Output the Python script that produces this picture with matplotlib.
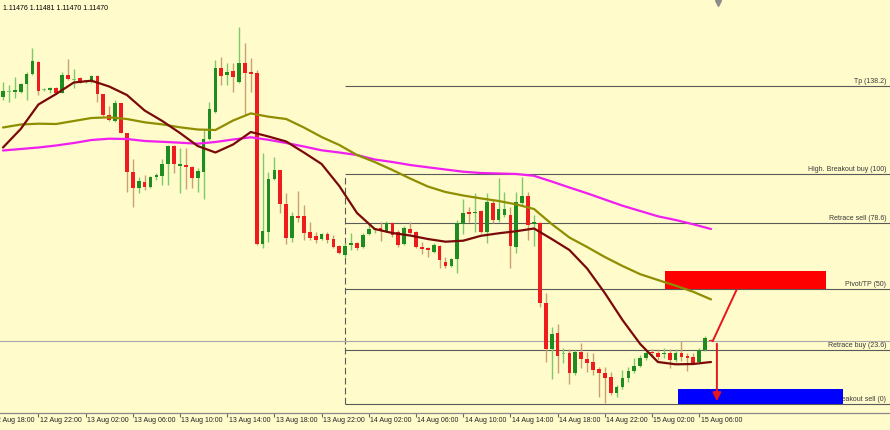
import matplotlib
matplotlib.use("Agg")
import matplotlib.pyplot as plt
import numpy as np
from matplotlib.patches import Rectangle
from matplotlib import font_manager

# ---------------- data (30-minute candles, chart price units) ----------------
opens = [333.3, 338.5, 338, 338, 346, 356, 368, 340, 340, 342.3,
         337.3, 355, 350.5, 352, 349, 348.3, 354.5, 336, 315, 309,
         327.3, 297.3, 258.3, 242, 248.3, 242.7, 253.3, 254, 266, 284,
         264, 265, 263.3, 251.7, 258.3, 291, 318.3, 362, 355, 359.3,
         348.3, 367.3, 358.3, 356.7, 186, 198.3, 251, 260, 226, 192,
         214, 214, 198.3, 194, 190.7, 196, 190.7, 184, 175, 185,
         187.3, 182.7, 196, 200.5, 202, 199.3, 207.3, 198.3, 186, 201,
         198.3, 183.3, 182, 178.3, 184, 168.3, 164, 170.7, 206, 218,
         216.7, 219.3, 198.3, 227.3, 210, 215, 215, 183.3, 226.7, 234,
         206, 207.3, 127.3, 80.7, 96.7, 76, 76.7, 56.7, 78.3, 70.7,
         68.3, 60.7, 57.3, 52.7, 36.7, 42.7, 51.7, 59.3, 64, 71.7,
         78.3, 77.3, 76, 77.3, 70, 77.3, 74, 73.3, 68.3, 80,
         90.2]
highs = [348, 345, 353, 347, 358, 382, 369, 342, 343.3, 343.3,
         358.3, 371, 361, 353, 350.3, 355, 355, 336, 324, 330,
         327.3, 297.3, 271, 253, 255, 254, 257, 271, 285, 285,
         282, 282, 264, 262, 300, 328.3, 370, 373.3, 367, 367.3,
         403, 387, 372, 360, 277, 258.3, 273, 260.5, 237, 218.3,
         239.3, 225, 208.3, 198.3, 197.3, 198.3, 195, 185, 187, 197,
         188.3, 197, 207, 202, 208, 209, 208.3, 200, 204, 208.3,
         199.3, 188.3, 182.7, 186.7, 185, 173.3, 171.7, 210, 231, 223.3,
         237, 220, 237, 230, 252, 238.3, 223.3, 238.3, 253.3, 238.3,
         215, 208.3, 137, 103.3, 106, 82, 81, 80, 87, 78.3,
         77, 63.3, 63.3, 58.3, 45, 60, 63.3, 71.7, 75, 79.3,
         80.7, 80.7, 81.7, 80.7, 80.7, 89.3, 77.3, 77.3, 81.7, 94,
         91.2]
lows = [330, 328, 332, 337, 330, 355, 335, 339, 337, 336,
        336.7, 350, 342, 346.7, 347.3, 347.3, 328.3, 314.3, 309, 308.3,
        296.7, 238.3, 223, 237.3, 240, 241.7, 250, 245, 245, 257.3,
        237.3, 241, 242, 238.3, 231, 290, 317.3, 345, 345, 338.3,
        347.3, 315, 338.3, 185, 182, 188.3, 250.5, 217.3, 186, 188.3,
        208.3, 190, 190, 187.3, 190, 187.3, 181.7, 176, 173, 180,
        180, 181.7, 195, 196.7, 189, 198.3, 192.7, 183.3, 185, 196,
        181.7, 175.7, 173.3, 177.3, 162, 161.7, 163.3, 157, 196, 208.3,
        198.3, 197.3, 187.3, 207.3, 208.3, 213.3, 161.7, 177.3, 225, 190,
        184, 123.3, 68.3, 50.7, 56.7, 67, 46, 55, 62, 58.3,
        55, 33.3, 26.7, 35, 33.3, 40.7, 48.3, 56.7, 63.3, 70,
        73.3, 70, 71.7, 61.7, 68.3, 69.3, 59.3, 66, 66.7, 79.3,
        89]
closes = [339.3, 339.5, 340, 346, 356, 369, 339, 341, 342.3, 336.7,
          355, 351, 351.5, 347.3, 349.5, 354, 336, 315, 310, 327,
          297.3, 258.3, 242, 249, 242.7, 253.3, 255, 266, 284, 266,
          266, 262.7, 251.7, 259.3, 291, 321, 362, 354, 358.3, 353.3,
          367.3, 356.7, 356, 186, 199.3, 251, 260, 226, 192, 214,
          212.3, 197.3, 191.7, 190, 196, 190, 183.3, 176.7, 184, 187.3,
          181.7, 195, 201, 201.3, 200, 207.3, 195, 185, 202, 197.3,
          182.7, 180.7, 180, 185, 170, 164, 171, 207.3, 217, 216,
          218.3, 198.3, 228.3, 210, 221, 221, 184, 228.3, 234, 205,
          208.3, 126.7, 80.7, 96, 74, 77, 56.7, 78.3, 70.7, 67.3,
          60, 57.3, 51.7, 37.3, 42.7, 51.7, 59.3, 64, 71.7, 76.7,
          76.7, 73.3, 77.3, 70, 77.3, 73.3, 71.7, 67.3, 80, 91.7,
          89]

# moving averages read every 3 candles
ma_index = list(range(0, 121, 3))
ma_fast = [282.5, 301, 325.5, 336, 347.5, 349.3, 343.5, 335, 319.5, 309,
           297, 284, 277.5, 285.5, 298, 293.5, 288.5, 277.5, 266, 244,
           217, 201, 197, 194.5, 191, 188.3, 189.3, 194.2, 196.7, 198.8,
           201.5, 191, 180, 161.5, 137, 110, 86, 68, 65.7, 66, 68]
ma_mid = [302.5, 305.5, 306.3, 306, 309, 312, 312.7, 311, 307.7, 305.6,
          302.7, 300.5, 300, 309.5, 316.6, 313.3, 311, 302.5, 293, 285,
          275, 268, 260, 251.5, 243.5, 238, 234.5, 231.6, 229, 225.6,
          221, 206, 192.5, 183, 173, 164, 155.8, 150, 144.3, 138.2, 130.6]
ma_slow = [279.5, 281, 282.5, 284.5, 287, 290, 291.3, 291, 289, 288.2,
           287.3, 286.3, 288, 290.5, 292.7, 290.2, 287, 283.5, 279.7, 277.5,
           275, 270.5, 268, 265, 262.7, 260.5, 258.3, 257, 256.5, 256,
           254.2, 248.5, 242.5, 236.7, 230.5, 224.3, 219, 213.7, 210, 205.7, 201]

# Fibonacci levels
fib_start = 58
fib_low = 26
fib_high = 256
fib_ratios = [0.0, 23.6, 50.0, 78.6, 100.0, 138.2]
fib_names = ["Low. Breakout sell (0)", "Retrace buy (23.6)", "Pivot/TP (50)",
             "Retrace sell (78.6)", "High. Breakout buy (100)", "Tp (138.2)"]

# trade zones: (x start, x end) in candles, (low, high) in price units
sell_zone_x = (112.2, 139.5)
sell_zone_y = (141, 159)
buy_zone_x = (114.4, 142.4)
buy_zone_y = (26, 41)
pivot_target_x = 124.4

ohlc_text = "1.11476 1.11481 1.11470 1.11470"

tick_pos = list(range(-2, 119, 8))
tick_labels = ["12 Aug 18:00", "12 Aug 22:00", "13 Aug 02:00", "13 Aug 06:00",
               "13 Aug 10:00", "13 Aug 14:00", "13 Aug 18:00", "13 Aug 22:00",
               "14 Aug 02:00", "14 Aug 06:00", "14 Aug 10:00", "14 Aug 14:00",
               "14 Aug 18:00", "14 Aug 22:00", "15 Aug 02:00", "15 Aug 06:00"]

# ---------------- style ----------------
names = {f.name for f in font_manager.fontManager.ttflist}
if "Liberation Sans Narrow" in names:
    FONT, FS = "Liberation Sans Narrow", 6.0
else:
    FONT, FS = "Liberation Sans", 5.0
plt.rcParams["font.family"] = [FONT, "DejaVu Sans"]

BG = "#FFFBCB"
BULL, BULL_WICK = "#1E8C1E", "#7CCB6A"
BEAR, BEAR_WICK = "#EE1C1C", "#C9A070"

fig = plt.figure(figsize=(8.9, 4.3), dpi=100, facecolor=BG)
ax = fig.add_axes([0, 17 / 430, 1, 413 / 430])
ax.set_facecolor(BG)
ax.set_xlim(-0.508, 150.34)
ax.set_ylim(17, 430)

o = np.array(opens); h = np.array(highs); l = np.array(lows); c = np.array(closes)
x = np.arange(len(o))
up = c >= o
tiny = np.abs(c - o) < 1.2
wick_col = np.where(up, BULL_WICK, BEAR_WICK)
body_col = np.where(tiny, wick_col, np.where(up, BULL, BEAR))

ax.vlines(x, l, h, colors=wick_col, linewidth=1.0, zorder=3)
ax.bar(x, np.maximum(np.abs(c - o), 1.0), bottom=np.minimum(o, c), width=0.62,
       color=body_col, linewidth=0, zorder=3)

# moving averages
ax.plot(ma_index, ma_slow, color="#F01EF0", lw=1.6, zorder=4, solid_capstyle="round")
ax.plot(ma_index, ma_mid, color="#8E8E00", lw=1.6, zorder=4, solid_capstyle="round")
ax.plot(ma_index, ma_fast, color="#7A0A0A", lw=1.6, zorder=5, solid_capstyle="round")

# fibonacci
x_right = ax.get_xlim()[1]
for r, name in zip(fib_ratios, fib_names):
    lvl = fib_low + (fib_high - fib_low) * r / 100.0
    ax.hlines(lvl, fib_start, x_right, color="#5A5A5A", lw=0.8, zorder=1)
    ax.text(149.7, lvl + 1.2, name, ha="right", va="bottom", fontsize=FS,
            color="#3A3A3A", zorder=1)
ax.vlines(fib_start, fib_low, fib_high, color="#5A5A5A", lw=0.8,
          linestyles=(0, (6, 3)), zorder=1)

# current price line
ax.axhline(c[-1], color="#A8A8A8", lw=0.8, zorder=1)

# trade zones
ax.add_patch(Rectangle((sell_zone_x[0], sell_zone_y[0]), sell_zone_x[1] - sell_zone_x[0],
                       sell_zone_y[1] - sell_zone_y[0], facecolor="#FF0000",
                       edgecolor="none", zorder=2))
ax.add_patch(Rectangle((buy_zone_x[0], buy_zone_y[0]), buy_zone_x[1] - buy_zone_x[0],
                       buy_zone_y[1] - buy_zone_y[0], facecolor="#0000FF",
                       edgecolor="none", zorder=2))

pivot = fib_low + (fib_high - fib_low) * 0.5
n = len(c)
ax.plot([n - 1 + 0.3, pivot_target_x], [c[-1], pivot], color="#E8141E", lw=1.4, zorder=6)
ax.annotate("", xy=(n, fib_low), xytext=(n, c[-1]),
            arrowprops=dict(arrowstyle="-|>,head_length=0.5,head_width=0.25",
                            color="#E8141E", lw=1.4), zorder=6)

# chart shift marker
ax.plot([n + 0.2], [427.5], marker="v", color="#8C8C8C", ms=5, clip_on=False, zorder=6)

# OHLC text
ax.text(0.0035, 0.988, ohlc_text, transform=ax.transAxes, ha="left", va="top",
        fontsize=FS, color="#000000")

# x axis
for s in ["top", "left", "right"]:
    ax.spines[s].set_visible(False)
ax.spines["bottom"].set_color("#8A8A8A")
ax.spines["bottom"].set_linewidth(0.9)
ax.set_yticks([])
vis = [p for p in tick_pos if p >= -0.5]
ax.set_xticks(vis)
ax.set_xticklabels([])
ax.tick_params(axis="x", length=3, width=0.8, color="#6A6A6A", direction="out")
for p, lab in zip(tick_pos, tick_labels):
    ax.text(p + 0.25, 9, lab, ha="left", va="center", fontsize=FS,
            color="#222222", clip_on=False)

fig.savefig("out.png", dpi=100, facecolor=BG)
